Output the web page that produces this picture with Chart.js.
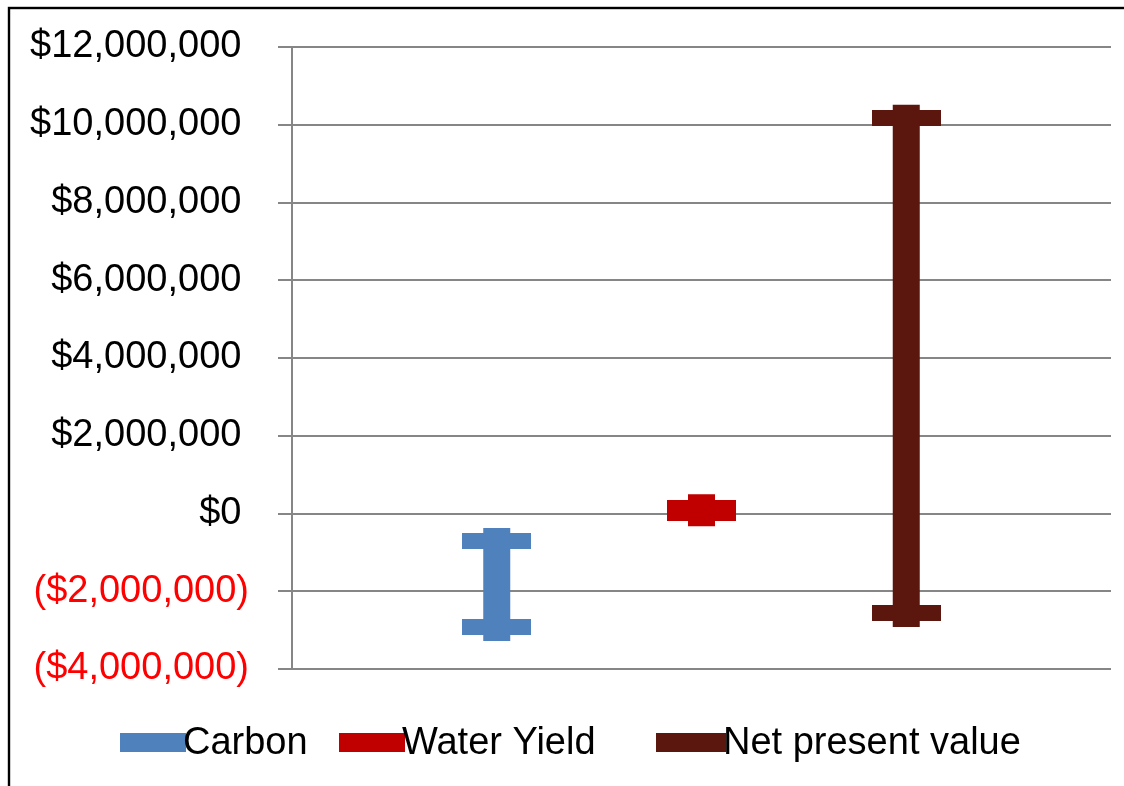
<!DOCTYPE html>
<html>
<head>
<meta charset="utf-8">
<script src="https://cdn.jsdelivr.net/npm/chart.js@4"></script>
<style>
  html, body { margin: 0; padding: 0; background: #ffffff; }
  canvas { display: block; }
</style>
</head>
<body>
<canvas id="chart" width="1124" height="786"></canvas>
<script>
// Value ranges per service (USD): each series spans from its high to its low value
const seriesNames = ['Carbon', 'Water Yield', 'Net present value'];
const slots = [1, 2, 3];
const highValues = [-720000, 150000, 10170000];
const lowValues = [-2930000, 20000, -2570000];
const seriesColors = ['#4F81BD', '#C00000', '#5B170D'];

// Value axis
const yMin = -4000000;
const yMax = 12000000;
const yStep = 2000000;

const FONT = "'Liberation Sans', Arial, sans-serif";

function formatMoney(v) {
  const s = Math.abs(v).toLocaleString('en-US');
  return v < 0 ? '($' + s + ')' : '$' + s + '\u2009';
}

// Horizontal cap drawn at each end of a range
function makeCap(color) {
  const c = document.createElement('canvas');
  c.width = 69;
  c.height = 16;
  const g = c.getContext('2d');
  g.fillStyle = color;
  g.fillRect(0, 0, c.width, c.height);
  return c;
}

const datasets = seriesNames.map((name, i) => ({
  label: name,
  data: [
    { x: slots[i], y: highValues[i] },
    { x: slots[i], y: lowValues[i] }
  ],
  borderColor: seriesColors[i],
  backgroundColor: seriesColors[i],
  borderWidth: 27,
  borderCapStyle: 'square',
  pointStyle: makeCap(seriesColors[i]),
  pointRadius: 10,
  pointHoverRadius: 10,
  tension: 0
}));

// Outer frame of the chart
const framePlugin = {
  id: 'frame',
  beforeDraw(chart) {
    const ctx = chart.ctx;
    ctx.save();
    ctx.fillStyle = '#ffffff';
    ctx.fillRect(0, 0, chart.width, chart.height);
    ctx.strokeStyle = '#000000';
    ctx.lineWidth = 2.4;
    ctx.strokeRect(9, 8, chart.width + 20, chart.height + 20);
    ctx.restore();
  }
};

// Legend row beneath the plot: thick line sample followed by the series name
const legendPlugin = {
  id: 'rangeLegend',
  afterDraw(chart) {
    const ctx = chart.ctx;
    const sampleX = [120, 339, 656];
    const sampleW = [66, 66, 70];
    ctx.save();
    ctx.font = '38px ' + FONT;
    ctx.textBaseline = 'alphabetic';
    ctx.textAlign = 'left';
    chart.data.datasets.forEach((ds, i) => {
      ctx.fillStyle = ds.borderColor;
      ctx.fillRect(sampleX[i], 733, sampleW[i], 19);
      ctx.fillStyle = '#000000';
      ctx.fillText(ds.label, sampleX[i] + sampleW[i] - 3, 754);
    });
    ctx.restore();
  }
};

new Chart(document.getElementById('chart'), {
  type: 'line',
  data: { datasets },
  options: {
    responsive: false,
    devicePixelRatio: 1,
    animation: false,
    events: [],
    layout: { autoPadding: false, padding: { top: 47, right: 13, bottom: 117, left: 0 } },
    plugins: {
      legend: { display: false },
      tooltip: { enabled: false }
    },
    scales: {
      x: {
        type: 'linear',
        min: 0,
        max: 4,
        display: false
      },
      y: {
        min: yMin,
        max: yMax,
        afterFit(scale) {
          scale.width = 292;
          scale.paddingTop = 0;
          scale.paddingBottom = 0;
        },
        ticks: {
          stepSize: yStep,
          padding: 29,
          font: { family: FONT, size: 38 },
          color: (ctx) => (ctx.tick.value < 0 ? '#FF0000' : '#000000'),
          callback: (v) => formatMoney(v)
        },
        grid: {
          color: '#868686',
          lineWidth: 2,
          drawTicks: true,
          tickLength: 14,
          tickColor: '#868686'
        },
        border: { display: true, color: '#868686', width: 2 }
      }
    }
  },
  plugins: [framePlugin, legendPlugin]
});
</script>
</body>
</html>
